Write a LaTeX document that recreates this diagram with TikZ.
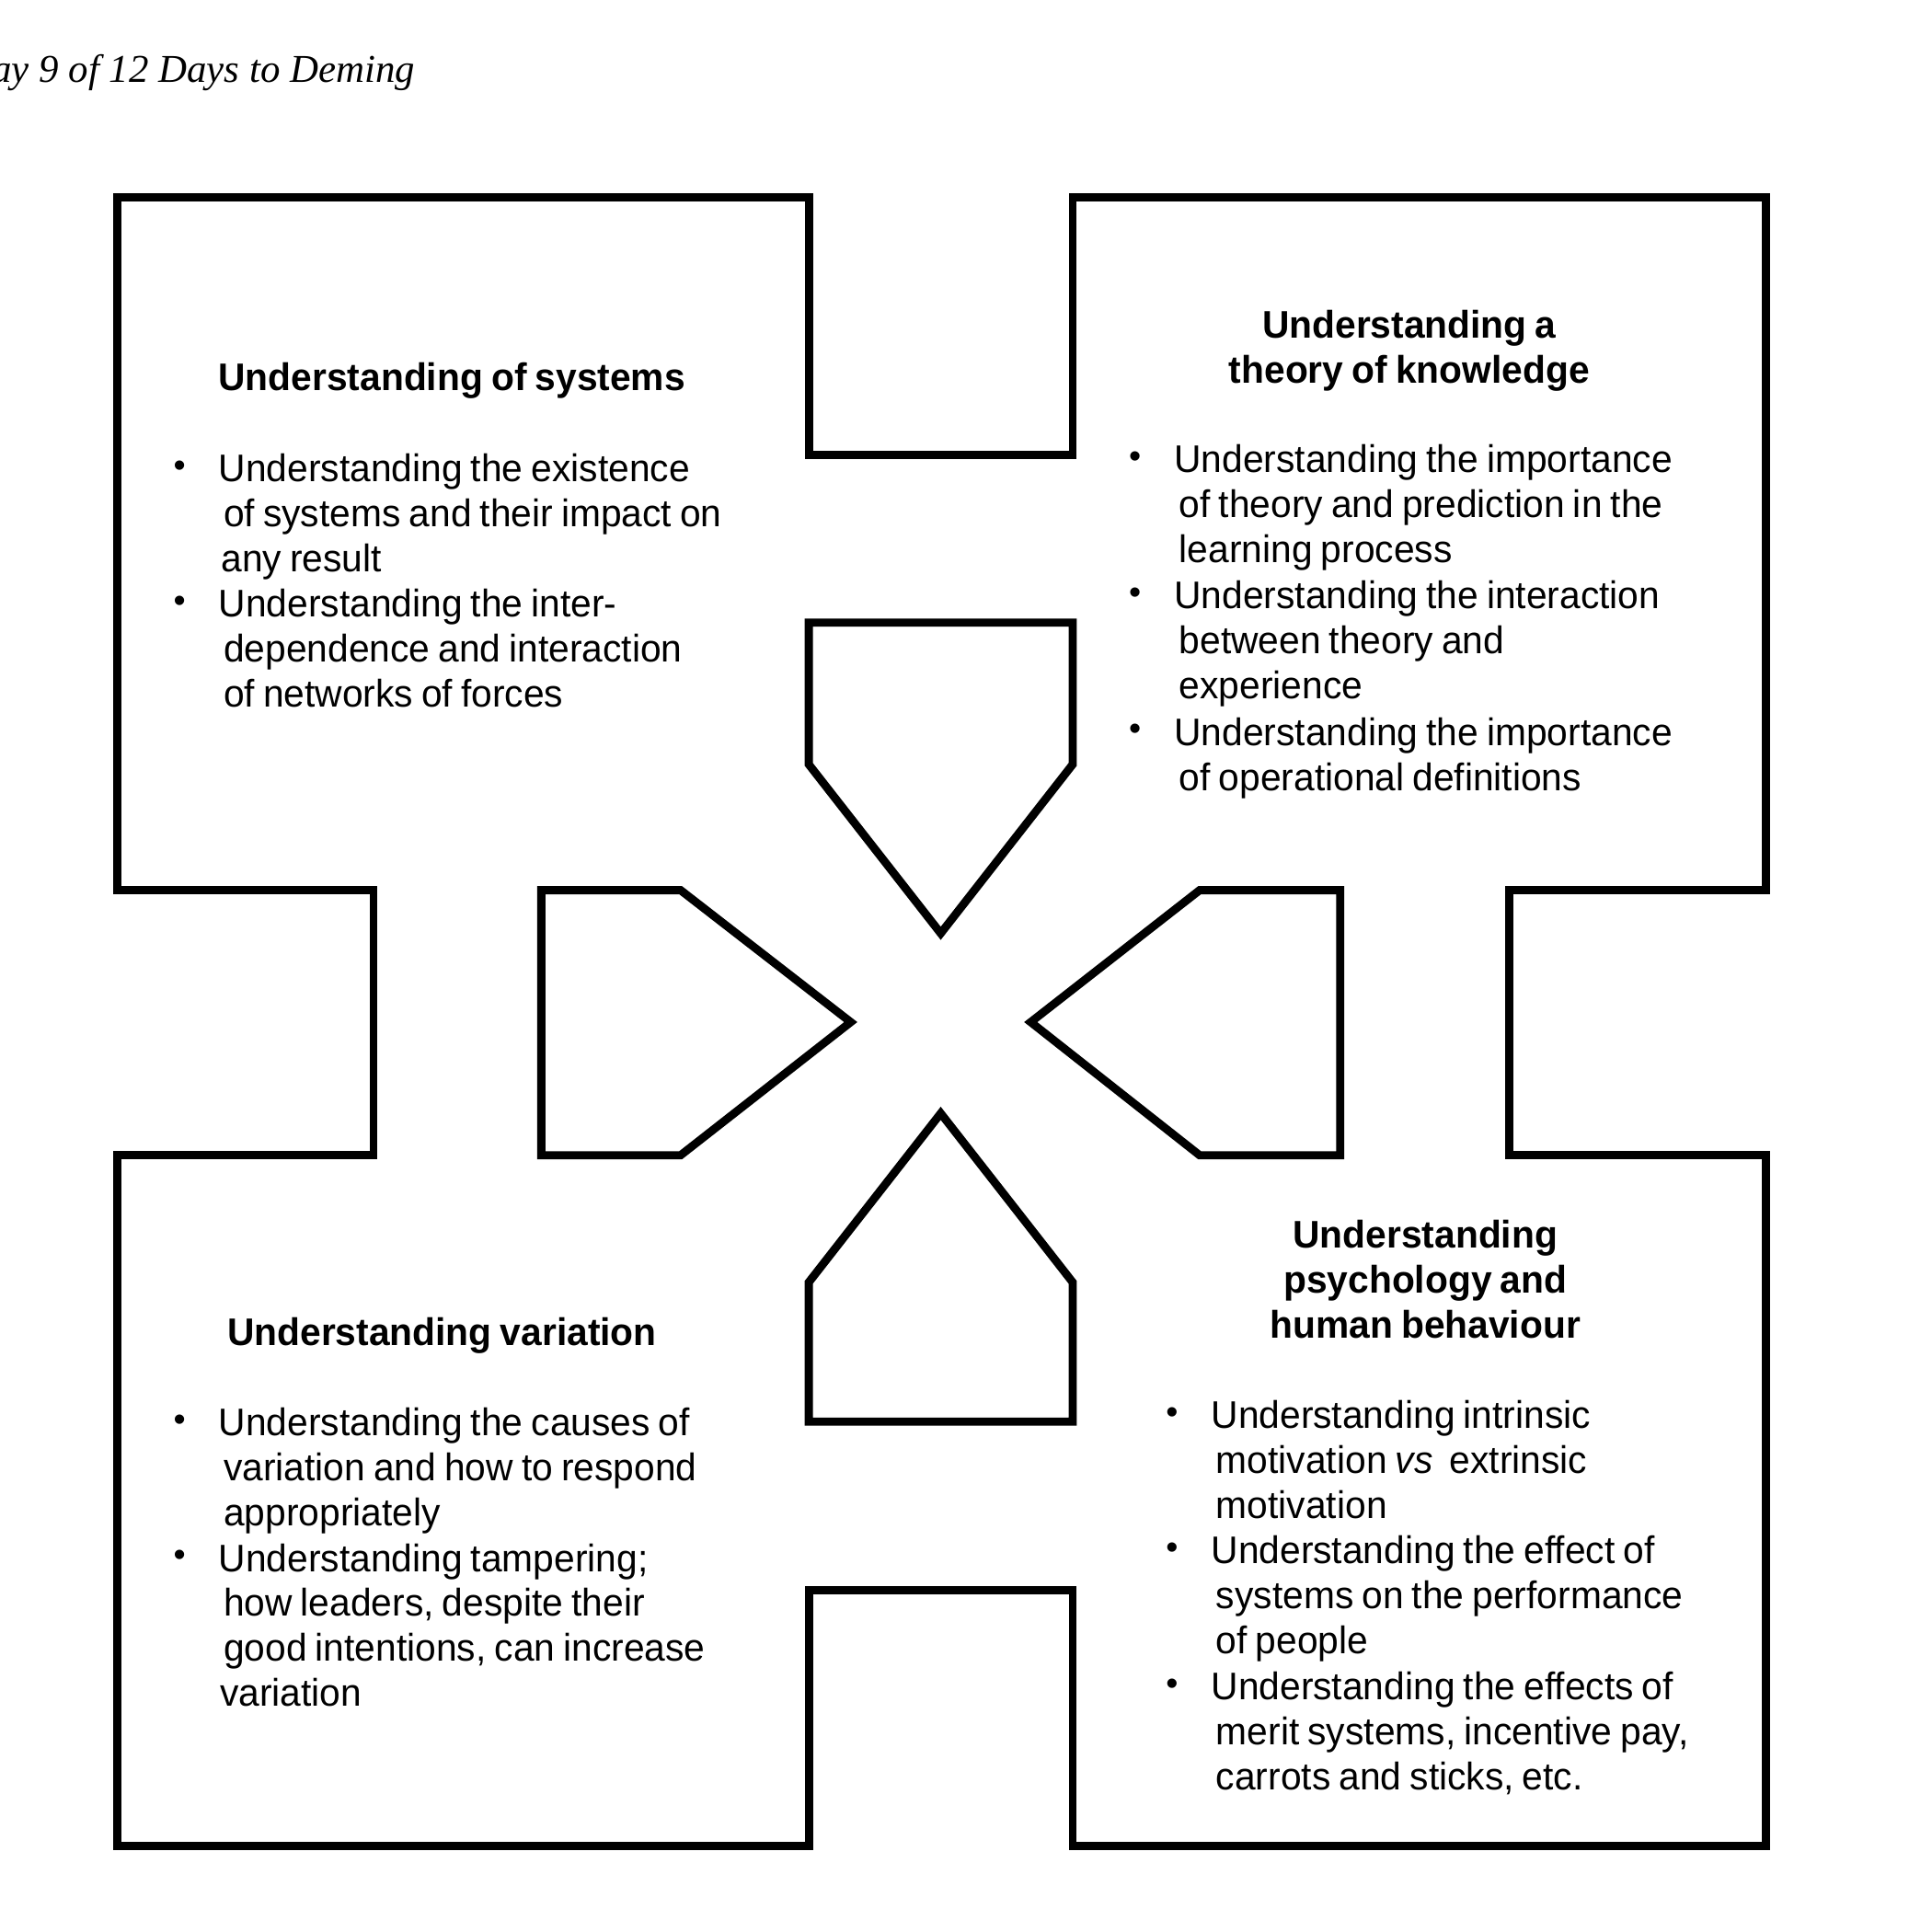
\documentclass[tikz,border=0pt]{standalone}
\usepackage{fontspec}
\setmainfont{Liberation Sans}[FakeStretch=0.975, WordSpace=0.8]
\newfontfamily\titlefont{Liberation Serif}
\newfontfamily\bulfont{Liberation Sans}
\newcommand{\bodyfont}{\fontsize{15.6}{18.25}\selectfont}
\newcommand{\blkl}[1]{\begin{tabular}[t]{@{}l@{}}#1\end{tabular}}
\newcommand{\blkc}[1]{\begin{tabular}[t]{@{}c@{}}#1\end{tabular}}
\tikzset{
  shapeline/.style={draw=black, line width=3.3pt, line join=miter},
  head/.style={anchor=base, inner sep=0pt, font=\bodyfont\bfseries},
  body/.style={anchor=base west, inner sep=0pt, font=\bodyfont},
  bul/.style={anchor=center, inner sep=0pt, font=\bulfont\fontsize{14}{15}\selectfont},
  titletext/.style={anchor=base east, inner sep=0pt, font=\titlefont\itshape\fontsize{16}{19}\selectfont}
}
\begin{document}
\begin{tikzpicture}[x=0.5pt, y=-0.5pt]
\useasboundingbox (0,0) rectangle (1567,1567);
% title
\node[titletext] (title) at (337,66.5) {Day 9 of 12 Days to Deming};
% outer outline
\draw[shapeline] (95,160) -- (656,160) -- (656,369) -- (870,369) -- (870,160) -- (1432,160)
  -- (1432,722) -- (1224,722) -- (1224,937) -- (1432,937) -- (1432,1497) -- (870,1497)
  -- (870,1290) -- (656,1290) -- (656,1497) -- (95,1497) -- (95,937) -- (303,937)
  -- (303,722) -- (95,722) -- cycle;
% inner arrows
\draw[shapeline] (656,505) -- (870,505) -- (870,620) -- (763,757) -- (656,620) -- cycle;
\draw[shapeline] (656,1153) -- (870,1153) -- (870,1040) -- (763,903) -- (656,1040) -- cycle;
\draw[shapeline] (439,722) -- (552,722) -- (690,829) -- (552,937) -- (439,937) -- cycle;
\draw[shapeline] (1087,722) -- (973,722) -- (836,829) -- (973,937) -- (1087,937) -- cycle;

% top-left block
\node[head] (h1) at (366.5,316.5) {Understanding of systems};
\node[bul] (b11) at (145.6,380) {•};
\node[body] (t11) at (181,390.5) {\blkl{\hspace*{-2pt}Understanding the existence\\of systems and their impact on\\\hspace*{-1pt}any result}};
\node[bul] (b12) at (145.6,490) {•};
\node[body] (t12) at (181,500.5) {\blkl{\hspace*{-2pt}Understanding the inter-\\dependence and interaction\\of networks of forces}};

% top-right block
\node[head] (h2) at (1143,274.5) {\blkc{Understanding a\\theory of knowledge}};
\node[bul] (b21) at (920.6,373) {•};
\node[body] (t21) at (956,383.5) {\blkl{\hspace*{-2pt}Understanding the importance\\of theory and prediction in the\\learning process}};
\node[bul] (b22) at (920.6,483) {•};
\node[body] (t22) at (956,493.5) {\blkl{\hspace*{-2pt}Understanding the interaction\\between theory and\\experience}};
\node[bul] (b23) at (920.6,594) {•};
\node[body] (t23) at (956,604.5) {\blkl{\hspace*{-2pt}Understanding the importance\\of operational definitions}};

% bottom-left block
\node[head] (h3) at (358.5,1091.5) {Understanding variation};
\node[bul] (b31) at (145.6,1154) {•};
\node[body] (t31) at (181,1164.5) {\blkl{\hspace*{-2pt}Understanding the causes of\\variation and how to respond\\appropriately}};
\node[bul] (b32) at (145.6,1264) {•};
\node[body] (t32) at (181,1274.5) {\blkl{\hspace*{-2pt}Understanding tampering;\\how leaders, despite their\\good intentions, can increase\\\hspace*{-1.5pt}variation}};

% bottom-right block
\node[head] (h4) at (1156,1012.5) {\blkc{Understanding\\psychology and\\human behaviour}};
\node[bul] (b41) at (950.6,1148) {•};
\node[body] (t41) at (986,1158.5) {\blkl{\hspace*{-2pt}Understanding intrinsic\\motivation \textit{vs}\ \ extrinsic\\motivation}};
\node[bul] (b42) at (950.6,1258) {•};
\node[body] (t42) at (986,1268.5) {\blkl{\hspace*{-2pt}Understanding the effect of\\systems on the performance\\of people}};
\node[bul] (b43) at (950.6,1368) {•};
\node[body] (t43) at (986,1378.5) {\blkl{\hspace*{-2pt}Understanding the effects of\\merit systems, incentive pay,\\carrots and sticks, etc.}};
\end{tikzpicture}
\end{document}
